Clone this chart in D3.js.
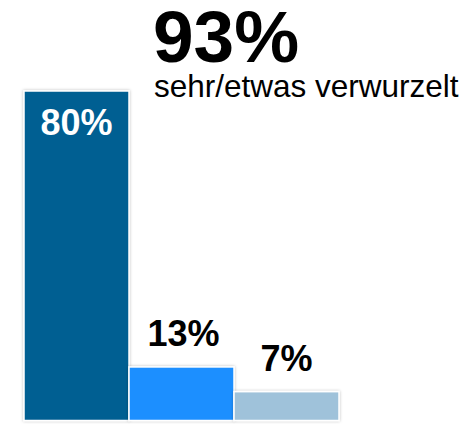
<!DOCTYPE html>
<html><head><meta charset="utf-8">
<script src="https://cdn.jsdelivr.net/npm/d3@7"></script>
<style>html,body{margin:0;padding:0;background:#fff;}svg{display:block;font-family:"Liberation Sans",Arial,sans-serif;}</style>
</head><body>
<svg id="c" width="468" height="424"></svg>
<script>
const categories = ["sehr verwurzelt", "etwas verwurzelt", "nicht verwurzelt"];
const values = [80, 13, 7];
const colors = ["#005e92", "#1e8fff", "#9fc2da"];
const headline = "93%";
const subtitle = "sehr/etwas verwurzelt";

const svg = d3.select("#c");
const defs = svg.append("defs");
const f = defs.append("filter").attr("id","sh").attr("x","-10%").attr("y","-10%").attr("width","120%").attr("height","120%");
f.append("feDropShadow").attr("dx",0).attr("dy",0).attr("stdDeviation",1.8).attr("flood-color","#000").attr("flood-opacity",0.28);

const x = d3.scaleBand().domain(categories).range([24, 339]).padding(0);
const y = d3.scaleLinear().domain([0, 80]).range([420.5, 91]);

svg.selectAll("rect.bar").data(values).join("rect")
  .attr("class","bar")
  .attr("x",(d,i)=>x(categories[i]))
  .attr("y",d=>y(d))
  .attr("width",x.bandwidth())
  .attr("height",d=>y(0)-y(d))
  .attr("fill",(d,i)=>colors[i])
  .attr("stroke","#fff").attr("stroke-width",1.5)
  .attr("filter","url(#sh)");

svg.selectAll("text.lbl").data(values).join("text")
  .attr("class","lbl")
  .attr("x",(d,i)=>x(categories[i])+x.bandwidth()/2 + (i===1?2:0))
  .attr("y",(d,i)=> i===0 ? y(d)+44 : y(d)-21)
  .attr("text-anchor","middle")
  .attr("font-weight","bold")
  .attr("font-size",36)
  .attr("fill",(d,i)=> i===0 ? "#fff" : "#000")
  .text(d=>d+"%");

svg.append("text").attr("x",153).attr("y",62)
  .attr("font-weight","bold").attr("font-size",73).attr("fill","#000").text(headline);
svg.append("text").attr("x",154).attr("y",97)
  .attr("font-size",31.5).attr("fill","#000").text(subtitle);
</script>
</body></html>
